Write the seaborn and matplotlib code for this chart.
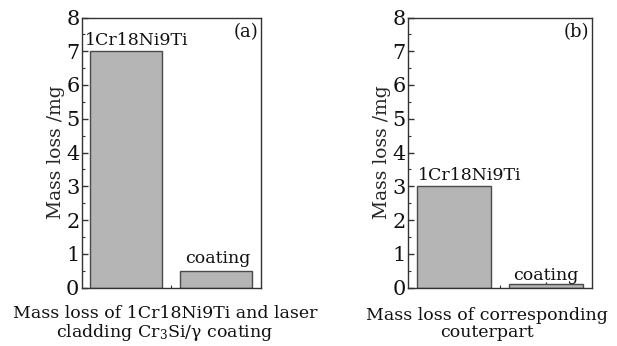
import matplotlib
matplotlib.use("Agg")
import matplotlib.pyplot as plt
from matplotlib.ticker import MultipleLocator, FixedLocator
import seaborn as sns
import pandas as pd

# Data
categories = ["1Cr18Ni9Ti", "coating"]
loss_a = [7.0, 0.5]
loss_b = [3.0, 0.1]
ylabel = "Mass loss /mg"
xlabel_a = "Mass loss of 1Cr18Ni9Ti and laser\ncladding Cr$_3$Si/γ coating"
xlabel_b = "Mass loss of corresponding\ncouterpart"
panel_tags = ["(a)", "(b)"]

sns.set_theme(style="ticks")
plt.rcParams["font.family"] = ["DejaVu Serif"]
plt.rcParams["mathtext.fontset"] = "dejavuserif"

fig = plt.figure(figsize=(6.17, 3.46), dpi=100)
W, H = 617, 346

def add_ax(x0, x1, y0, y1):
    return fig.add_axes([x0 / W, 1 - y1 / H, (x1 - x0) / W, (y1 - y0) / H])

ax_a = add_ax(81.5, 261, 17.5, 287.5)
ax_b = add_ax(407.7, 592, 17.5, 287.5)

bar_color = "#b5b5b5"
edge_color = "#4a4a4a"

for ax, vals, tag in [(ax_a, loss_a, panel_tags[0]), (ax_b, loss_b, panel_tags[1])]:
    df = pd.DataFrame({"sample": categories, "loss": vals})
    sns.barplot(data=df, x="sample", y="loss", color=bar_color, edgecolor=edge_color,
                linewidth=1.0, width=0.8, saturation=1, ax=ax)
    ax.set_xlim(-0.5, 1.5)
    ax.set_ylim(0, 8)
    ax.yaxis.set_major_locator(MultipleLocator(1))
    ax.yaxis.set_minor_locator(MultipleLocator(0.5))
    ax.xaxis.set_major_locator(FixedLocator([0, 1]))
    ax.xaxis.set_minor_locator(FixedLocator([0.5]))
    ax.set_xticklabels([])
    ax.set_xlabel("")
    ax.set_ylabel(ylabel, fontsize=13.5, labelpad=1)
    ax.tick_params(axis="both", which="major", direction="in", length=4, width=1,
                   color="#333333", labelsize=15, pad=1.5, labelcolor="#111111")
    ax.tick_params(axis="both", which="minor", direction="in", length=2.5, width=0.8,
                   color="#333333")
    ax.tick_params(axis="x", which="both", bottom=True, top=False)
    ax.tick_params(axis="y", which="both", left=True, right=False)
    for s in ax.spines.values():
        s.set_visible(True)
        s.set_color("#333333")
        s.set_linewidth(1.0)
    ax.text(0.985, 0.945, tag, transform=ax.transAxes, ha="right", va="center",
            fontsize=13, color="#111111")

# bar annotations
ax_a.text(0.12, 7.08, categories[0], ha="center", va="bottom", fontsize=12.5, color="#111111")
ax_a.text(1.02, 0.72, categories[1], ha="center", va="baseline", fontsize=12.5, color="#111111")
ax_b.text(0.17, 3.2, categories[0], ha="center", va="baseline", fontsize=12.5, color="#111111")
ax_b.text(1.0, 0.22, categories[1], ha="center", va="baseline", fontsize=12.5, color="#111111")

fig.text(165 / W, 1 - 324 / H, xlabel_a, ha="center", va="center", fontsize=12.5,
         linespacing=1.05, color="#111111")
fig.text(487 / W, 1 - 324 / H, xlabel_b, ha="center", va="center", fontsize=12.5,
         linespacing=1.05, color="#111111")

fig.savefig("out.png", dpi=100)
